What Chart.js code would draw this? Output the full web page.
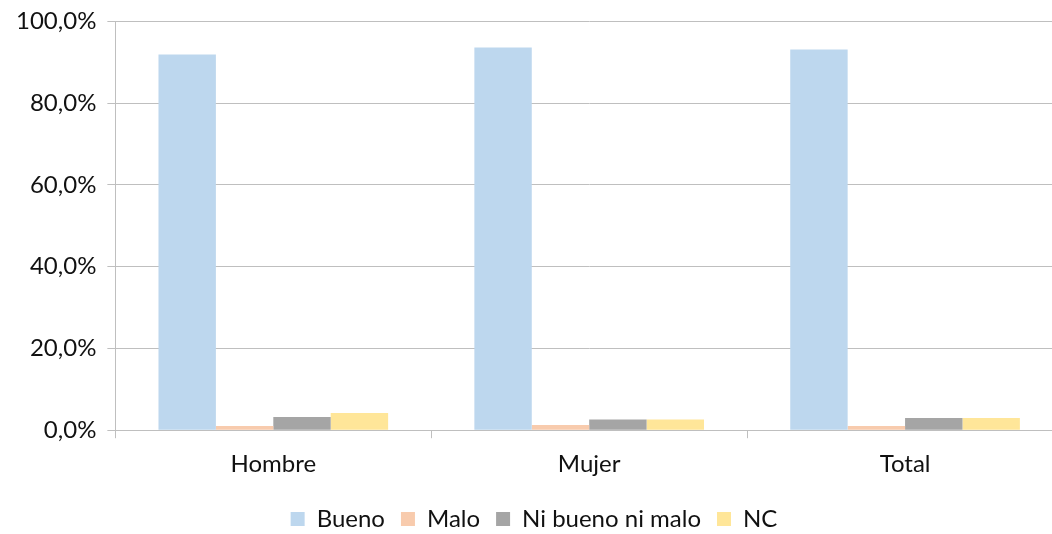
<!DOCTYPE html>
<html>
<head>
<meta charset="utf-8">
<script src="https://cdn.jsdelivr.net/npm/chart.js@4"></script>
<style>
  html, body { margin: 0; padding: 0; background: #fff; overflow: hidden; }
  #wrap { width: 1068px; height: 545px; margin-left: -3px; margin-top: -4px; }
</style>
</head>
<body>
<div id="wrap"><canvas id="chart"></canvas></div>
<script>
// Data
const categories = ['Hombre', 'Mujer', 'Total'];
const seriesNames = ['Bueno', 'Malo', 'Ni bueno ni malo', 'NC'];
const bueno = [91.9, 93.6, 93.1];
const malo = [1.0, 1.3, 1.0];
const niBuenoNiMalo = [3.2, 2.6, 3.0];
const nc = [4.2, 2.6, 3.0];
const yTicks = [0, 20, 40, 60, 80, 100];

const colors = ['#BDD7EE', '#F8CBAD', '#A5A5A5', '#FFE699'];
const values = [bueno, malo, niBuenoNiMalo, nc];
const font = { family: 'Lato', size: 24 };

new Chart(document.getElementById('chart'), {
  type: 'bar',
  data: {
    labels: categories,
    datasets: seriesNames.map((name, i) => ({
      label: name,
      data: values[i],
      backgroundColor: colors[i],
      borderWidth: 0,
      categoryPercentage: 0.727,
      barPercentage: 1
    }))
  },
  options: {
    responsive: true,
    maintainAspectRatio: false,
    animation: false,
    layout: { padding: { top: 2, right: 2, left: 8, bottom: 0 } },
    plugins: {
      tooltip: { enabled: false },
      legend: {
        position: 'bottom',
        labels: { font, color: '#111', boxWidth: 14, boxHeight: 14, padding: 16 }
      }
    },
    scales: {
      x: {
        grid: { drawOnChartArea: false, color: '#bfbfbf', tickLength: 8 },
        border: { color: '#bfbfbf' },
        ticks: { font, color: '#111', padding: 12 }
      },
      y: {
        min: 0, max: 100,
        afterBuildTicks: axis => { axis.ticks = yTicks.map(v => ({ value: v })); },
        grid: { color: '#bfbfbf', tickLength: 8 },
        border: { color: '#bfbfbf' },
        ticks: {
          font, color: '#111', padding: 11,
          callback: v => v.toFixed(1).replace('.', ',') + '%'
        }
      }
    }
  }
});
</script>
</body>
</html>
